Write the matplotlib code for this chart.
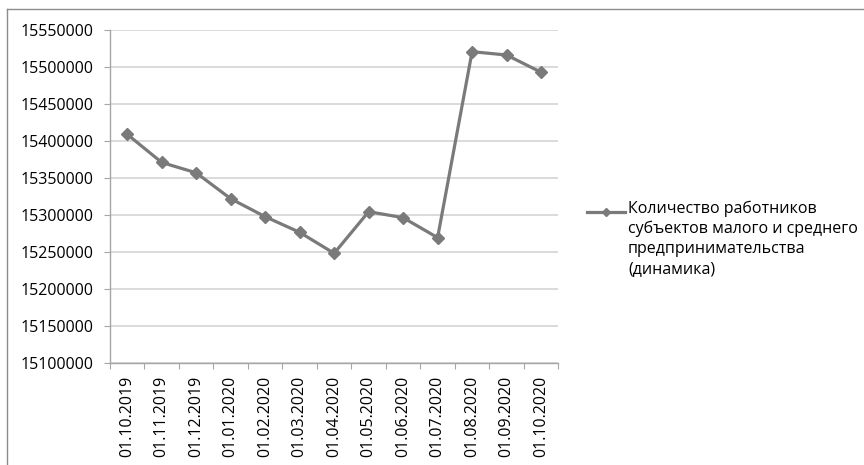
import matplotlib.pyplot as plt
from matplotlib.lines import Line2D

# Dates (first day of month) and employee counts
dates = ['01.10.2019', '01.11.2019', '01.12.2019', '01.01.2020', '01.02.2020',
         '01.03.2020', '01.04.2020', '01.05.2020', '01.06.2020', '01.07.2020',
         '01.08.2020', '01.09.2020', '01.10.2020']
workers = [15409000, 15371000, 15357000, 15322000, 15297700, 15276600,
           15248200, 15304500, 15296400, 15269400, 15520700, 15516200, 15492900]
yticks = [15100000, 15150000, 15200000, 15250000, 15300000, 15350000,
          15400000, 15450000, 15500000, 15550000]
label = ('Количество работников\nсубъектов малого и среднего\n'
         'предпринимательства\n(динамика)')

plt.rcParams['font.family'] = ['Open Sans', 'DejaVu Sans']

fig = plt.figure(figsize=(8.64, 4.65), dpi=100)
ax = fig.add_axes([110 / 864, 1 - 363 / 465, 448.3 / 864, 333 / 465])

line_color = '#7a7a7a'
x = list(range(len(dates)))
ax.plot(x, workers, color=line_color, linewidth=2.3, marker='D',
        markersize=6)

ax.set_xlim(-0.5, len(dates) - 0.5)
ax.set_ylim(15100000, 15550000)
ax.set_yticks(yticks)
ax.set_yticklabels([str(v) for v in yticks])
ax.set_xticks([i - 0.5 for i in range(len(dates) + 1)], minor=False)
ax.set_xticklabels([])
ax.set_xticks(x, minor=True)
ax.set_xticklabels(dates, minor=True, rotation=90)

ax.grid(axis='y', color='#d4d4d4', linewidth=1.2)
ax.set_axisbelow(True)
for side in ['top', 'right']:
    ax.spines[side].set_visible(False)
for side in ['left', 'bottom']:
    ax.spines[side].set_color('#a6a6a6')
    ax.spines[side].set_linewidth(1.0)

ax.tick_params(axis='y', which='major', length=4, color='#a6a6a6',
               labelsize=11.5, pad=8)
ax.tick_params(axis='x', which='major', length=4, color='#a6a6a6')
ax.tick_params(axis='x', which='minor', length=0, labelsize=11.5, pad=9)

# Legend drawn by hand so the key sits on the first text line
ly = 1 - 212 / 465
fig.add_artist(Line2D([587 / 864, 625 / 864], [ly, ly], transform=fig.transFigure,
                      color=line_color, linewidth=2.3))
fig.add_artist(Line2D([606 / 864], [ly], transform=fig.transFigure,
                      color=line_color, marker='D', markersize=4))
fig.text(628 / 864, 1 - 201 / 465, label, fontsize=11.5, va='top', ha='left',
         linespacing=1.3)

# Outer chart frame (only top and left edges visible in the crop)
fig.add_artist(Line2D([7 / 864, 7 / 864], [0, 1 - 9 / 465],
                      transform=fig.transFigure, color='#8c8c8c', linewidth=1))
fig.add_artist(Line2D([7 / 864, 1], [1 - 9 / 465, 1 - 9 / 465],
                      transform=fig.transFigure, color='#8c8c8c', linewidth=1))

fig.savefig('out.png', dpi=100)
plt.close(fig)
